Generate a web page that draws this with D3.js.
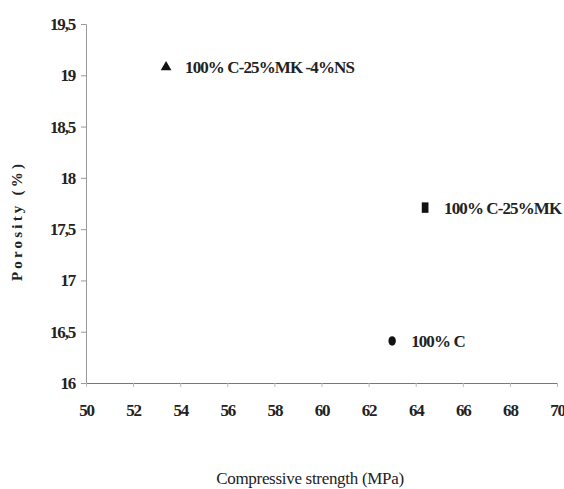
<!DOCTYPE html>
<html>
<head>
<meta charset="utf-8">
<script src="https://cdn.jsdelivr.net/npm/d3@7"></script>
<style>
  body { margin: 0; background: #fff; }
</style>
</head>
<body>
<div id="chart"></div>
<script>
// data
var mixes = ["100% C-25%MK -4%NS", "100% C-25%MK", "100% C"];
var strength = [53.4, 64.4, 63.0];
var porosity = [19.08, 17.71, 16.41];
var symbols = ["triangle", "square", "circle"];
var xTicks = [50, 52, 54, 56, 58, 60, 62, 64, 66, 68, 70];
var yTicks = [16, 16.5, 17, 17.5, 18, 18.5, 19, 19.5];

var width = 564, height = 489;
var serif = "'Liberation Serif', 'DejaVu Serif', serif";

var svg = d3.select("#chart").append("svg")
    .attr("width", width)
    .attr("height", height)
    .attr("font-family", serif);

var xScale = d3.scaleLinear().domain([50, 70]).range([86, 557]);
var yScale = d3.scaleLinear().domain([16, 19.5]).range([383, 24]);

var fmt = function(d) { return String(d).replace(".", ","); };

// y axis
var yAxis = d3.axisLeft(yScale).tickValues(yTicks).tickSize(5).tickPadding(6).tickFormat(fmt);
var gy = svg.append("g")
    .attr("transform", "translate(86,0)")
    .call(yAxis)
    .attr("font-family", serif)
    .attr("font-size", 17)
    .attr("font-weight", "bold");
gy.select(".domain").attr("stroke", "#999");
gy.selectAll(".tick line").attr("stroke", "#999");
gy.selectAll(".tick text").attr("fill", "#222").attr("letter-spacing", -1.2);

// x axis
var xAxis = d3.axisBottom(xScale).tickValues(xTicks).tickSize(4).tickPadding(17).tickSizeOuter(0).tickFormat(fmt);
var gx = svg.append("g")
    .attr("transform", "translate(0,383)")
    .call(xAxis)
    .attr("font-family", serif)
    .attr("font-size", 17)
    .attr("font-weight", "bold");
gx.select(".domain").attr("stroke", "#777");
gx.selectAll(".tick line").attr("stroke", "#bbb");
gx.selectAll(".tick text").attr("fill", "#222").attr("letter-spacing", -1.2);

// points
var symType = { triangle: d3.symbolTriangle, square: d3.symbolSquare, circle: d3.symbolCircle };
var symSize = { triangle: 50, square: 70, circle: 60 };
var symScale = { triangle: "", square: " scale(0.8,1.25)", circle: " scale(0.85,1.1)" };

mixes.forEach(function(m, i) {
  var cx = xScale(strength[i]), cy = yScale(porosity[i]);
  svg.append("path")
      .attr("d", d3.symbol().type(symType[symbols[i]]).size(symSize[symbols[i]]))
      .attr("transform", "translate(" + cx + "," + cy + ")" + symScale[symbols[i]])
      .attr("fill", "#111");
  svg.append("text")
      .attr("x", cx + 19)
      .attr("y", cy + 6)
      .attr("font-size", 17)
      .attr("font-weight", "bold")
      .attr("fill", "#222")
      .attr("letter-spacing", -0.9)
      .text(m);
});

// axis titles
svg.append("text")
    .attr("x", 310)
    .attr("y", 484)
    .attr("text-anchor", "middle")
    .attr("font-size", 17)
    .attr("fill", "#222")
    .attr("letter-spacing", -0.3)
    .text("Compressive strength  (MPa)");

svg.append("text")
    .attr("transform", "translate(22,221) rotate(-90)")
    .attr("text-anchor", "middle")
    .attr("font-size", 15)
    .attr("font-weight", "bold")
    .attr("fill", "#222")
    .attr("letter-spacing", 3.2)
    .text("Porosity (%)");
</script>
</body>
</html>
